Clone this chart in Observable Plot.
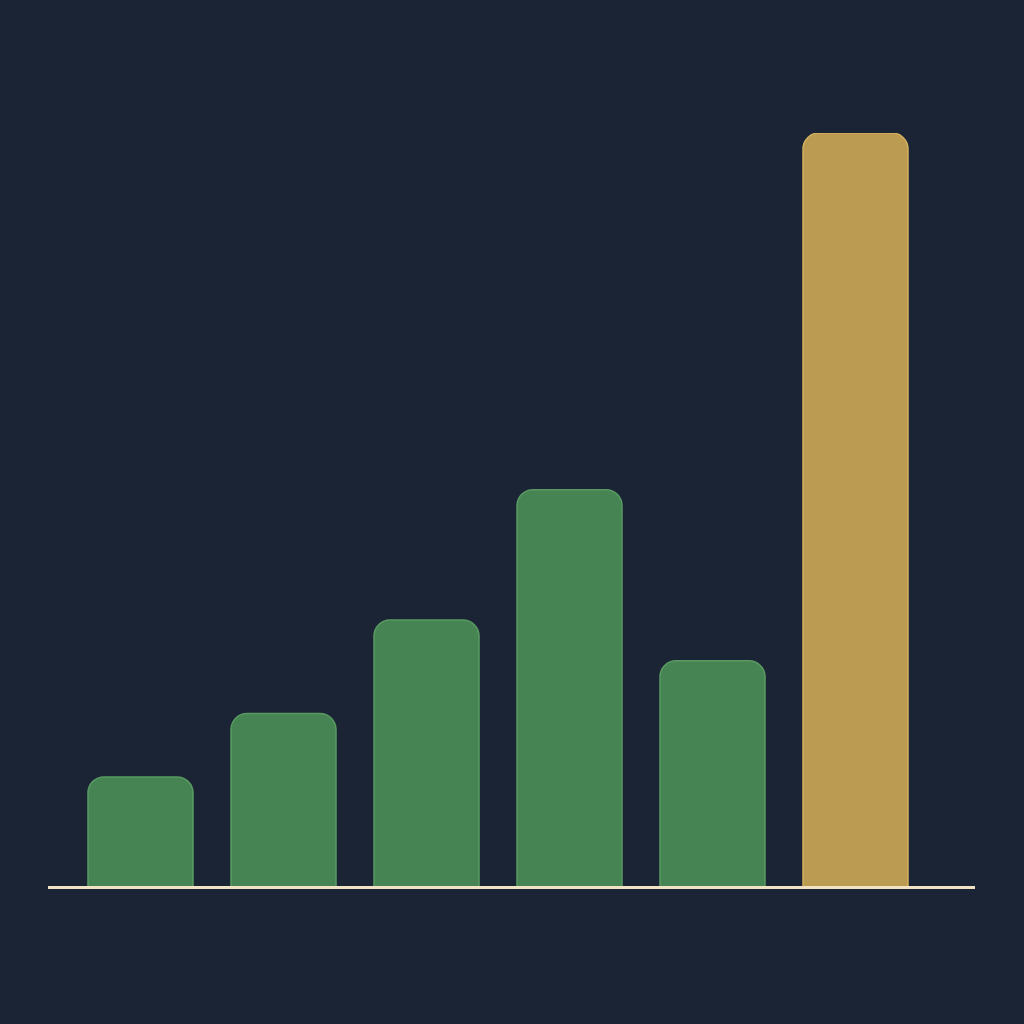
<!DOCTYPE html>
<html>
<head>
<meta charset="utf-8">
<script src="https://cdn.jsdelivr.net/npm/d3@7"></script>
<script src="https://cdn.jsdelivr.net/npm/@observablehq/plot@0.6"></script>
<style>
  html, body { margin: 0; padding: 0; background: #1a2434; }
  #chart { width: 1024px; height: 1024px; }
</style>
</head>
<body>
<div id="chart"></div>
<script>
const categories = ["A", "B", "C", "D", "E", "F"];
const values = [14.6, 23, 35.4, 52.7, 30, 100];
const highlight = [false, false, false, false, false, true];

const data = categories.map((c, i) => ({category: c, value: values[i], highlight: highlight[i]}));

const chart = Plot.plot({
  width: 1024,
  height: 1024,
  marginTop: 133,
  marginBottom: 137,
  marginLeft: 48,
  marginRight: 49,
  style: {background: "#1a2434"},
  x: {domain: categories, paddingInner: 0.266, paddingOuter: 0.374, align: 0.374, axis: null},
  y: {domain: [0, 100], axis: null},
  marks: [
    Plot.barY(data, {
      x: "category",
      y1: -5,
      y2: "value",
      rx: 16,
      ry: 16,
      clip: true,
      fill: d => d.highlight ? "#bb9a52" : "#468553",
      stroke: d => d.highlight ? "#d2b05e" : "#5a9a62",
      strokeWidth: 1.5
    }),
    Plot.ruleY([0], {stroke: "#f1e2c4", strokeWidth: 3})
  ]
});
document.getElementById("chart").appendChild(chart);
</script>
</body>
</html>
